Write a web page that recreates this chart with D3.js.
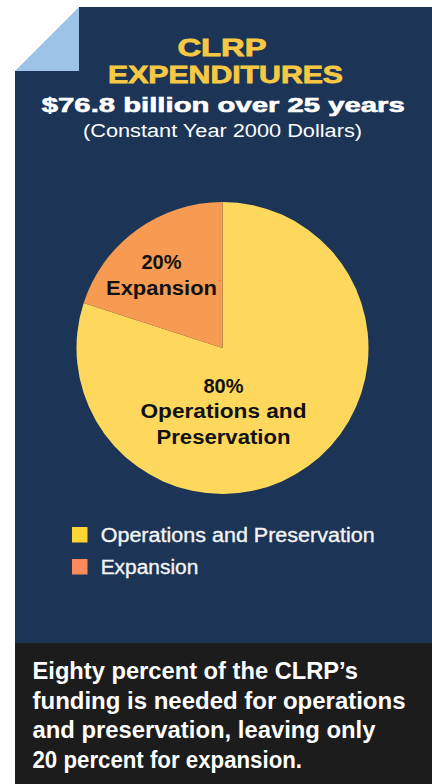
<!DOCTYPE html>
<html><head><meta charset="utf-8">
<script src="https://cdn.jsdelivr.net/npm/d3@7"></script>
<style>html,body{margin:0;padding:0;background:#fff;}svg{display:block;}</style>
</head><body>
<svg id="c" width="432" height="784"></svg>
<script>
const categories = ["Operations and Preservation", "Expansion"];
const values = [80, 20];
const pieLabels = [["80%", "Operations and", "Preservation"], ["20%", "Expansion"]];
const sliceColors = ["#fdd85d", "#f69b51"];
const legendColors = ["#fdd535", "#fb8c5a"];
const titleLines = ["CLRP", "EXPENDITURES"];
const subtitle = "$76.8 billion over 25 years";
const subtitle2 = "(Constant Year 2000 Dollars)";
const caption = ["Eighty percent of the CLRP\u2019s", "funding is needed for operations", "and preservation, leaving only", "20 percent for expansion."];

const svg = d3.select("#c");
const F = "'Liberation Sans', Arial, sans-serif";

// panel
svg.append("path").attr("d","M79,7 L432,7 L432,643 L15,643 L15,71 L79,71 Z").attr("fill","#1c3557");
svg.append("path").attr("d","M15,71 L79,7 L79,71 Z").attr("fill","#9dc3e6");
svg.append("rect").attr("x",15).attr("y",643).attr("width",417).attr("height",141).attr("fill","#1c1c1c");

// titles
const titleSpec = [
  {t: titleLines[0], y: 56, x: 222, w: 89, size: 24, fill: "#f7c843", weight: 900, sw: 0.8},
  {t: titleLines[1], y: 83, x: 225.5, w: 235, size: 24, fill: "#f7c843", weight: 900, sw: 0.8},
  {t: subtitle, y: 111.5, x: 223.3, w: 363, size: 20, fill: "#ffffff", weight: 900, sw: 0.6},
  {t: subtitle2, y: 137, x: 222.5, w: 279, size: 18, fill: "#ffffff", weight: 400, sw: 0}
];
titleSpec.forEach(s => {
  svg.append("text").attr("x", s.x).attr("y", s.y).attr("text-anchor","middle")
    .attr("font-family", F).attr("font-size", s.size).attr("font-weight", s.weight)
    .attr("fill", s.fill).attr("stroke", s.sw ? s.fill : "none").attr("stroke-width", s.sw)
    .attr("textLength", s.w).attr("lengthAdjust","spacingAndGlyphs").text(s.t);
});

// pie
const cx = 222.5, cy = 348, r = 146;
const pie = d3.pie().sort(null).value(d => d)(values);
const arc = d3.arc().innerRadius(0).outerRadius(r);
const g = svg.append("g").attr("transform", `translate(${cx},${cy})`);
g.selectAll("path").data(pie).join("path").attr("d", arc).attr("fill", (d,i) => sliceColors[i]);

// pie labels
const labelSpec = [
  {x: 1, lines: [{y: 393, w: 0}, {y: 418.3, w: 166}, {y: 444, w: 134}]},
  {x: -61, lines: [{y: 269, w: 0}, {y: 295, w: 111}]}
];
pie.forEach((d, i) => {
  pieLabels[i].forEach((line, j) => {
    const t = g.append("text").attr("x", labelSpec[i].x).attr("y", labelSpec[i].lines[j].y - cy)
      .attr("text-anchor","middle").attr("font-family", F).attr("font-size", 20).attr("font-weight", 700)
      .attr("fill", "#111").text(line);
    if (labelSpec[i].lines[j].w) t.attr("textLength", labelSpec[i].lines[j].w).attr("lengthAdjust","spacingAndGlyphs");
  });
});

// legend
const legY = [527, 559];
const legW = [274, 97.6];
categories.forEach((c, i) => {
  svg.append("rect").attr("x", 72).attr("y", legY[i]).attr("width", 15.5).attr("height", 15.5).attr("fill", legendColors[i]);
  svg.append("text").attr("x", 100.7).attr("y", legY[i] + 14.7).attr("font-family", F).attr("font-size", 19.5)
    .attr("font-weight", 400).attr("fill", "#f4f4f4").attr("stroke", "#f4f4f4").attr("stroke-width", 0.35)
    .attr("textLength", legW[i]).attr("lengthAdjust","spacingAndGlyphs").text(c);
});

// caption
const capY = [679, 708.5, 738, 767.5];
const capW = [325.5, 373, 343, 269.5];
caption.forEach((c, i) => {
  svg.append("text").attr("x", 32.5).attr("y", capY[i]).attr("font-family", F).attr("font-size", 23)
    .attr("font-weight", 700).attr("fill", "#ffffff").attr("textLength", capW[i]).attr("lengthAdjust","spacingAndGlyphs").text(c);
});
</script>
</body></html>
